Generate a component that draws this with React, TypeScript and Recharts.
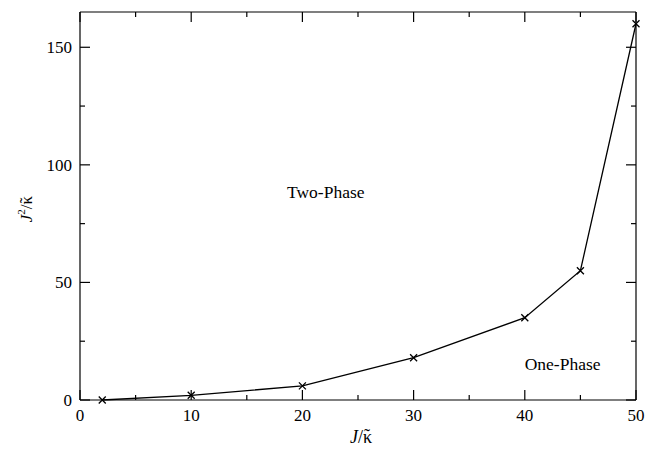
import React from "react";
import { LineChart, Line, XAxis, YAxis, ReferenceDot } from "recharts";

const xValues = [2, 10, 20, 30, 40, 45, 50];
const yValues = [0, 2, 6, 18, 35, 55, 160];
const xTicks = [0, 5, 10, 15, 20, 25, 30, 35, 40, 45, 50];
const yTicks = [0, 25, 50, 75, 100, 125, 150];
const xMajor = [0, 10, 20, 30, 40, 50];
const yMajor = [0, 50, 100, 150];
const annotations = [
  { x: 22.1, y: 88.4, text: "Two-Phase" },
  { x: 43.4, y: 15.3, text: "One-Phase" },
];

const data = xValues.map((x, i) => ({ x, y: yValues[i] }));

const FONT = "'Liberation Serif', 'Times New Roman', serif";
const MAJ = 10;
const MIN = 5;

const BottomTick = (p: any) => {
  const v = p.payload.value;
  const major = xMajor.includes(v);
  return (
    <g>
      <line x1={p.x} y1={p.y} x2={p.x} y2={p.y - (major ? MAJ : MIN)} stroke="#000" strokeWidth={1.2} />
      {major && (
        <text x={p.x} y={p.y + 21} textAnchor="middle" fontFamily={FONT} fontSize={17} fill="#000">
          {v}
        </text>
      )}
    </g>
  );
};

const TopTick = (p: any) => {
  const v = p.payload.value;
  const major = xMajor.includes(v);
  return <line x1={p.x} y1={p.y} x2={p.x} y2={p.y + (major ? MAJ : MIN)} stroke="#000" strokeWidth={1.2} />;
};

const LeftTick = (p: any) => {
  const v = p.payload.value;
  const major = yMajor.includes(v);
  return (
    <g>
      <line x1={p.x} y1={p.y} x2={p.x + (major ? MAJ : MIN)} y2={p.y} stroke="#000" strokeWidth={1.2} />
      {major && (
        <text x={p.x - 8} y={p.y} dy="0.35em" textAnchor="end" fontFamily={FONT} fontSize={17} fill="#000">
          {v}
        </text>
      )}
    </g>
  );
};

const RightTick = (p: any) => {
  const v = p.payload.value;
  const major = yMajor.includes(v);
  return <line x1={p.x} y1={p.y} x2={p.x - (major ? MAJ : MIN)} y2={p.y} stroke="#000" strokeWidth={1.2} />;
};

const Cross = (p: any) => {
  const { cx, cy, index } = p;
  if (cx == null || cy == null) return <g key={index} />;
  const s = 3.5;
  return (
    <path
      key={index}
      d={`M${cx - s},${cy - s}L${cx + s},${cy + s}M${cx - s},${cy + s}L${cx + s},${cy - s}`}
      stroke="#000"
      strokeWidth={1.3}
      fill="none"
    />
  );
};

const XTitle = (p: any) => {
  const vb = p.viewBox;
  return (
    <text x={vb.x + vb.width / 2 + 3} y={vb.y + 43} textAnchor="middle" fontFamily={FONT} fontSize={18} fill="#000">
      <tspan fontStyle="italic">J</tspan>
      <tspan>/</tspan>
      <tspan>{"\u03BA"}</tspan>
      <tspan dx={-8} dy={-1}>{"\u02DC"}</tspan>
    </text>
  );
};

const YTitle = (p: any) => {
  const vb = p.viewBox;
  const cx = vb.x - 47;
  const cy = vb.y + vb.height / 2 + 3;
  return (
    <text
      x={cx}
      y={cy}
      textAnchor="middle"
      transform={`rotate(-90 ${cx} ${cy})`}
      fontFamily={FONT}
      fontSize={17}
      fill="#000"
    >
      <tspan fontStyle="italic">J</tspan>
      <tspan fontSize={11} dy={-7}>2</tspan>
      <tspan dy={7}>/</tspan>
      <tspan>{"\u03BA"}</tspan>
      <tspan dx={-7.5} dy={-1}>{"\u02DC"}</tspan>
    </text>
  );
};

const AnnLabel = (text: string) => (p: any) => {
  const vb = p.viewBox;
  return (
    <text x={vb.x + (vb.width || 0) / 2} y={vb.y + (vb.height || 0) / 2} dy="0.35em" textAnchor="middle" fontFamily={FONT} fontSize={17.5} fill="#000">
      {text}
    </text>
  );
};

const axisLine = { stroke: "#000", strokeWidth: 1.2 };

export default function App() {
  return (
    <div style={{ position: "absolute", left: 0, top: 0, width: 645, height: 455, background: "#fff" }}>
      <LineChart width={645} height={455} data={data} margin={{ top: 11, right: 8, bottom: 54, left: 79 }}>
        <XAxis
          xAxisId="b"
          dataKey="x"
          type="number"
          domain={[0, 50]}
          ticks={xTicks}
          interval={0}
          height={1}
          tickSize={0}
          tickMargin={0}
          tickLine={false}
          axisLine={axisLine}
          tick={BottomTick}
          label={{ content: XTitle }}
        />
        <XAxis
          xAxisId="t"
          orientation="top"
          dataKey="x"
          type="number"
          domain={[0, 50]}
          ticks={xTicks}
          interval={0}
          height={1}
          tickSize={0}
          tickMargin={0}
          tickLine={false}
          axisLine={axisLine}
          tick={TopTick}
        />
        <YAxis
          yAxisId="l"
          type="number"
          domain={[0, 165]}
          ticks={yTicks}
          interval={0}
          width={1}
          tickSize={0}
          tickMargin={0}
          tickLine={false}
          axisLine={axisLine}
          tick={LeftTick}
          label={{ content: YTitle }}
        />
        <YAxis
          yAxisId="r"
          orientation="right"
          type="number"
          domain={[0, 165]}
          ticks={yTicks}
          interval={0}
          width={1}
          tickSize={0}
          tickMargin={0}
          tickLine={false}
          axisLine={axisLine}
          tick={RightTick}
        />
        <Line
          xAxisId="t"
          yAxisId="r"
          dataKey="y"
          stroke="none"
          dot={false}
          activeDot={false}
          isAnimationActive={false}
          legendType="none"
        />
        <Line
          xAxisId="b"
          yAxisId="l"
          dataKey="y"
          type="linear"
          stroke="#000"
          strokeWidth={1.3}
          dot={Cross}
          activeDot={false}
          isAnimationActive={false}
        />
        {annotations.map((a, i) => (
          <ReferenceDot
            key={i}
            xAxisId="b"
            yAxisId="l"
            x={a.x}
            y={a.y}
            r={0}
            fill="none"
            stroke="none"
            label={{ content: AnnLabel(a.text) }}
          />
        ))}
      </LineChart>
    </div>
  );
}
